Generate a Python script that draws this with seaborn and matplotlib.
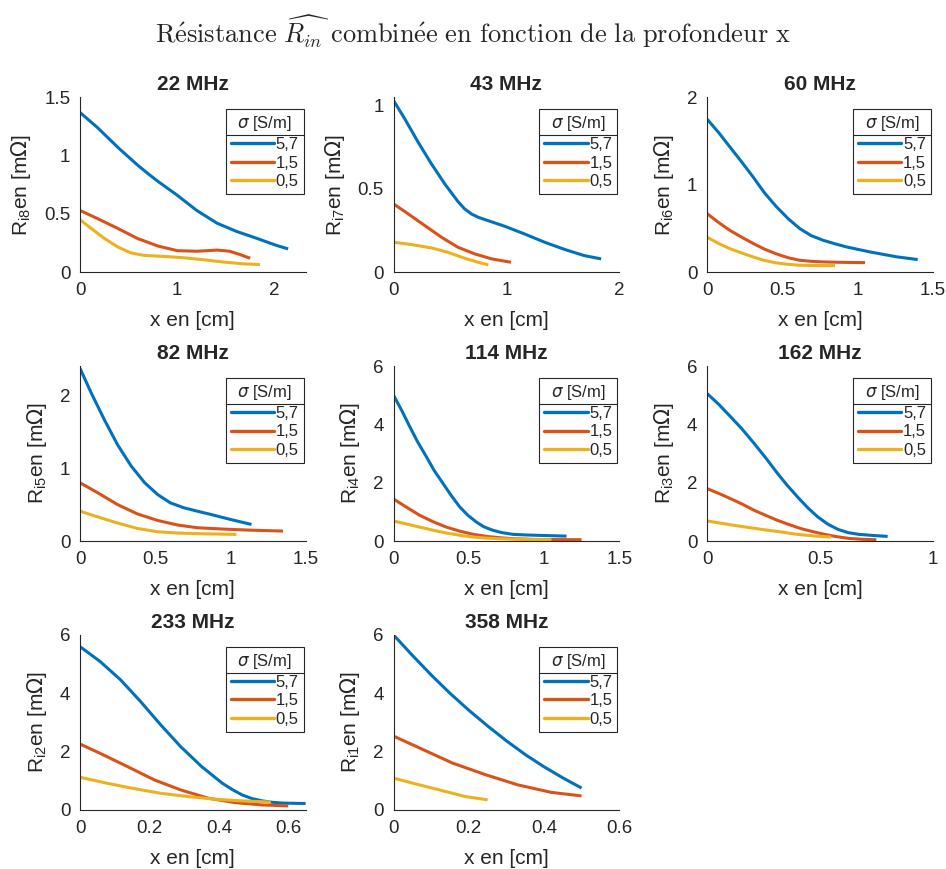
import numpy as np
import pandas as pd
import matplotlib
matplotlib.use("Agg")
import matplotlib.pyplot as plt
import seaborn as sns
from matplotlib.lines import Line2D
from matplotlib.ticker import FuncFormatter

# --- data (x in cm, R in mOhm) ---
SIGMAS = ["5,7", "1,5", "0,5"]
COLORS = ["#0072BD", "#D95319", "#EDB120"]
FREQS = [22, 43, 60, 82, 114, 162, 233, 358]
RIDX = [8, 7, 6, 5, 4, 3, 2, 1]

x22_57 = [0, 0.18, 0.39, 0.59, 0.7, 0.8, 1.0, 1.2, 1.41, 1.61, 1.82, 2.02, 2.14]
r22_57 = [1.37, 1.24, 1.07, 0.92, 0.845, 0.78, 0.66, 0.53, 0.42, 0.35, 0.29, 0.23, 0.20]
x22_15 = [0, 0.18, 0.39, 0.59, 0.8, 1.0, 1.2, 1.41, 1.54, 1.65, 1.75]
r22_15 = [0.53, 0.46, 0.375, 0.29, 0.225, 0.185, 0.18, 0.19, 0.18, 0.15, 0.12]
x22_05 = [0, 0.116, 0.25, 0.39, 0.52, 0.66, 0.86, 1.07, 1.27, 1.48, 1.68, 1.85]
r22_05 = [0.45, 0.375, 0.29, 0.216, 0.167, 0.144, 0.136, 0.124, 0.107, 0.087, 0.072, 0.066]

x43_57 = [0, 0.1, 0.218, 0.336, 0.454, 0.57, 0.63, 0.69, 0.75, 0.81, 0.985, 1.16, 1.34, 1.52, 1.69, 1.84]
r43_57 = [1.03, 0.92, 0.78, 0.65, 0.53, 0.425, 0.38, 0.35, 0.33, 0.316, 0.276, 0.23, 0.18, 0.136, 0.10, 0.08]
x43_15 = [0, 0.13, 0.277, 0.425, 0.57, 0.72, 0.87, 1.04]
r43_15 = [0.41, 0.35, 0.28, 0.21, 0.15, 0.11, 0.08, 0.06]
x43_05 = [0, 0.16, 0.336, 0.48, 0.63, 0.75, 0.84]
r43_05 = [0.18, 0.166, 0.146, 0.12, 0.084, 0.06, 0.044]

x60_57 = [0, 0.075, 0.15, 0.23, 0.305, 0.38, 0.46, 0.54, 0.615, 0.69, 0.77, 0.85, 0.925, 1.08, 1.26, 1.40]
r60_57 = [1.75, 1.60, 1.435, 1.26, 1.09, 0.91, 0.75, 0.61, 0.50, 0.42, 0.366, 0.325, 0.29, 0.233, 0.176, 0.145]
x60_15 = [0, 0.075, 0.15, 0.23, 0.305, 0.38, 0.46, 0.54, 0.615, 0.69, 0.77, 0.9, 1.05]
r60_15 = [0.67, 0.57, 0.48, 0.40, 0.33, 0.265, 0.21, 0.165, 0.137, 0.125, 0.118, 0.113, 0.11]
x60_05 = [0, 0.075, 0.15, 0.23, 0.305, 0.38, 0.46, 0.54, 0.615, 0.7, 0.85]
r60_05 = [0.40, 0.33, 0.27, 0.22, 0.175, 0.135, 0.107, 0.09, 0.08, 0.077, 0.076]

x82_57 = [0, 0.075, 0.163, 0.25, 0.34, 0.43, 0.515, 0.6, 0.69, 0.78, 0.87, 1.0, 1.14]
r82_57 = [2.37, 2.03, 1.66, 1.32, 1.03, 0.80, 0.64, 0.525, 0.457, 0.41, 0.365, 0.297, 0.228]
x82_15 = [0, 0.12, 0.25, 0.38, 0.515, 0.65, 0.78, 0.96, 1.13, 1.35]
r82_15 = [0.80, 0.66, 0.50, 0.374, 0.283, 0.22, 0.183, 0.164, 0.15, 0.137]
x82_05 = [0, 0.12, 0.25, 0.38, 0.515, 0.65, 0.82, 1.04]
r82_05 = [0.41, 0.33, 0.247, 0.174, 0.128, 0.11, 0.10, 0.091]

x114_57 = [0, 0.055, 0.107, 0.16, 0.217, 0.27, 0.328, 0.385, 0.44, 0.495, 0.55, 0.6, 0.66, 0.72, 0.794, 0.88, 0.97, 1.15]
r114_57 = [5.0, 4.47, 3.93, 3.40, 2.90, 2.42, 1.98, 1.55, 1.17, 0.88, 0.655, 0.49, 0.37, 0.29, 0.23, 0.21, 0.195, 0.17]
x114_15 = [0, 0.09, 0.173, 0.26, 0.35, 0.44, 0.53, 0.62, 0.705, 0.8, 0.93, 1.25]
r114_15 = [1.44, 1.15, 0.885, 0.67, 0.48, 0.34, 0.23, 0.16, 0.115, 0.08, 0.057, 0.046]
x114_05 = [0, 0.09, 0.173, 0.26, 0.35, 0.44, 0.53, 0.62, 0.705, 0.85, 1.05]
r114_05 = [0.69, 0.58, 0.48, 0.375, 0.276, 0.2, 0.138, 0.1, 0.08, 0.06, 0.046]

x162_57 = [0, 0.05, 0.102, 0.155, 0.207, 0.26, 0.312, 0.355, 0.4, 0.445, 0.49, 0.535, 0.58, 0.625, 0.673, 0.74, 0.80]
r162_57 = [5.06, 4.7, 4.28, 3.84, 3.36, 2.85, 2.32, 1.91, 1.52, 1.15, 0.83, 0.58, 0.40, 0.29, 0.23, 0.19, 0.16]
x162_15 = [0, 0.05, 0.102, 0.155, 0.207, 0.26, 0.312, 0.365, 0.417, 0.47, 0.52, 0.575, 0.628, 0.69, 0.75]
r162_15 = [1.80, 1.64, 1.46, 1.27, 1.06, 0.88, 0.71, 0.56, 0.425, 0.32, 0.23, 0.15, 0.092, 0.06, 0.046]
x162_05 = [0, 0.102, 0.18, 0.252, 0.33, 0.4, 0.48, 0.55]
r162_05 = [0.69, 0.56, 0.47, 0.39, 0.31, 0.23, 0.17, 0.138]

x233_57 = [0, 0.058, 0.117, 0.175, 0.233, 0.29, 0.35, 0.41, 0.44, 0.467, 0.495, 0.525, 0.555, 0.584, 0.62, 0.65]
r233_57 = [5.6, 5.09, 4.46, 3.71, 2.91, 2.17, 1.49, 0.914, 0.69, 0.514, 0.39, 0.31, 0.26, 0.235, 0.225, 0.22]
x233_15 = [0, 0.058, 0.136, 0.214, 0.29, 0.37, 0.447, 0.525, 0.60]
r233_15 = [2.26, 1.94, 1.49, 1.03, 0.686, 0.40, 0.25, 0.17, 0.137]
x233_05 = [0, 0.078, 0.156, 0.233, 0.311, 0.39, 0.467, 0.55]
r233_05 = [1.12, 0.914, 0.73, 0.57, 0.457, 0.366, 0.31, 0.27]

x358_57 = [0, 0.05, 0.1, 0.15, 0.2, 0.25, 0.3, 0.35, 0.4, 0.45, 0.5]
r358_57 = [6.0, 5.3, 4.63, 4.0, 3.42, 2.88, 2.37, 1.9, 1.48, 1.1, 0.75]
x358_15 = [0, 0.068, 0.156, 0.244, 0.33, 0.42, 0.5]
r358_15 = [2.53, 2.13, 1.61, 1.21, 0.86, 0.60, 0.48]
x358_05 = [0, 0.068, 0.139, 0.19, 0.25]
r358_05 = [1.09, 0.86, 0.63, 0.46, 0.345]

CURVES = {
    22: [(x22_57, r22_57), (x22_15, r22_15), (x22_05, r22_05)],
    43: [(x43_57, r43_57), (x43_15, r43_15), (x43_05, r43_05)],
    60: [(x60_57, r60_57), (x60_15, r60_15), (x60_05, r60_05)],
    82: [(x82_57, r82_57), (x82_15, r82_15), (x82_05, r82_05)],
    114: [(x114_57, r114_57), (x114_15, r114_15), (x114_05, r114_05)],
    162: [(x162_57, r162_57), (x162_15, r162_15), (x162_05, r162_05)],
    233: [(x233_57, r233_57), (x233_15, r233_15), (x233_05, r233_05)],
    358: [(x358_57, r358_57), (x358_15, r358_15), (x358_05, r358_05)],
}

XLIMS = [2.32, 2, 1.5, 1.5, 1.5, 1, 0.65, 0.6]
YLIMS = [1.5, 1.05, 2, 2.4, 6, 6, 6, 6]
XTICKS = [[0, 1, 2], [0, 1, 2], [0, 0.5, 1, 1.5], [0, 0.5, 1, 1.5], [0, 0.5, 1, 1.5],
          [0, 0.5, 1], [0, 0.2, 0.4, 0.6], [0, 0.2, 0.4, 0.6]]
YTICKS = [[0, 0.5, 1, 1.5], [0, 0.5, 1], [0, 1, 2], [0, 1, 2], [0, 2, 4, 6],
          [0, 2, 4, 6], [0, 2, 4, 6], [0, 2, 4, 6]]

# --- style ---
sns.set_style("white")
plt.rcParams['font.family'] = ['Liberation Sans', 'DejaVu Sans']
plt.rcParams['axes.edgecolor'] = '#262626'
plt.rcParams['xtick.color'] = '#262626'
plt.rcParams['ytick.color'] = '#262626'
plt.rcParams['axes.labelcolor'] = '#262626'

fig, axes = plt.subplots(3, 3, figsize=(9.46, 8.69), dpi=100)
fig.subplots_adjust(left=0.0846, right=0.986, top=0.888, bottom=0.068,
                    wspace=0.39, hspace=0.537)

fmt = FuncFormatter(lambda v, p: f"{v:g}")
legends = []

for i, freq in enumerate(FREQS):
    ax = axes.flat[i]
    rows = []
    for sig, (xs, rs) in zip(SIGMAS, CURVES[freq]):
        for xv, rv in zip(xs, rs):
            rows.append({'x': xv, 'R': rv, 'sigma': sig})
    df = pd.DataFrame(rows)
    sns.lineplot(data=df, x='x', y='R', hue='sigma', hue_order=SIGMAS,
                 palette=COLORS, linewidth=2.2, ax=ax)
    for ln in ax.get_lines():
        ln.set_solid_joinstyle('round')
        ln.set_solid_capstyle('butt')

    old = ax.get_legend()
    handles = old.legend_handles
    labels = [t.get_text() for t in old.texts]
    old.remove()
    for h in handles:
        h.set_linewidth(2.4)
    leg = ax.legend(handles, labels, title=r'$\sigma$ [S/m]', loc='upper right',
                    bbox_to_anchor=(0.992, 0.932), borderaxespad=0,
                    fontsize=12, title_fontsize=12, frameon=True,
                    fancybox=False, edgecolor='#262626', framealpha=1,
                    handlelength=2.6, handletextpad=0.1, labelspacing=0.22,
                    borderpad=0.3)
    leg.get_frame().set_linewidth(0.8)
    legends.append((ax, leg))

    ax.set_xlim(0, XLIMS[i])
    ax.set_ylim(0, YLIMS[i])
    ax.set_xticks(XTICKS[i])
    ax.set_yticks(YTICKS[i])
    ax.xaxis.set_major_formatter(fmt)
    ax.yaxis.set_major_formatter(fmt)
    ax.tick_params(direction='in', length=4, width=0.8, labelsize=13.5, pad=7)
    sns.despine(ax=ax)
    for s in ['left', 'bottom']:
        ax.spines[s].set_linewidth(0.8)
    ax.set_xlabel('x en [cm]', fontsize=15, labelpad=9)
    ax.set_ylabel(r'R$_{\mathregular{i%d}}$en [m$\Omega$]' % RIDX[i], fontsize=15, labelpad=8)
    ax.set_title(f'{freq} MHz', fontsize=15, fontweight='bold', pad=5)

axes.flat[8].remove()

fig.suptitle(r'$\mathrm{R\acute{e}sistance}\ \widehat{R_{in}}\ '
             r'\mathrm{combin\acute{e}e\ en\ fonction\ de\ la\ profondeur\ x}$',
             fontsize=19, y=0.985, math_fontfamily='cm')

# line under each legend title, like the original
fig.canvas.draw()
renderer = fig.canvas.get_renderer()
for ax, leg in legends:
    lb = leg.get_frame().get_window_extent(renderer)
    tb = leg.get_title().get_window_extent(renderer)
    ysep = tb.y0 - 2
    inv = ax.transAxes.inverted()
    (x0, y0) = inv.transform((lb.x0, ysep))
    (x1, _) = inv.transform((lb.x1, ysep))
    ax.add_line(Line2D([x0, x1], [y0, y0], transform=ax.transAxes, color='#262626',
                       linewidth=0.8, clip_on=False, zorder=10))

fig.savefig('out.png', dpi=100)
